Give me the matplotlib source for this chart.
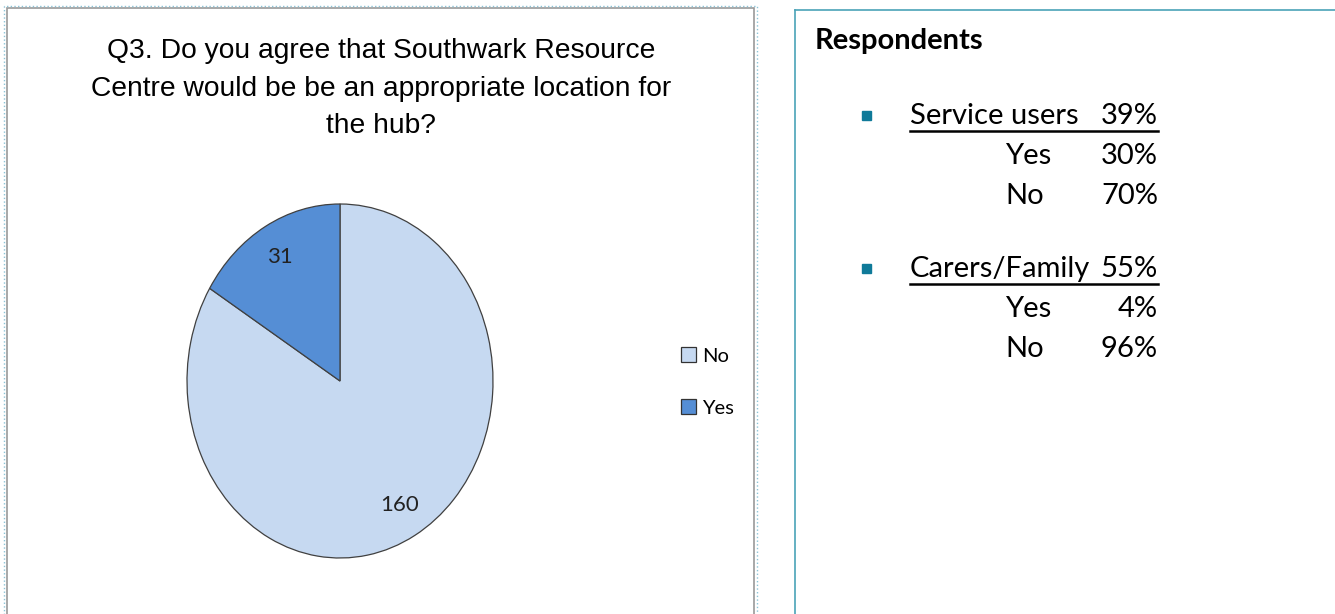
import matplotlib
matplotlib.use("Agg")
import matplotlib.pyplot as plt
from matplotlib.patches import Rectangle
from matplotlib.lines import Line2D

W, H = 1335, 614

title = "Q3. Do you agree that Southwark Resource\nCentre would be be an appropriate location for\nthe hub?"
slice_labels = ["No", "Yes"]
slice_values = [160, 31]
slice_colors = ["#c6d9f1", "#558ed5"]

groups = ["Service users", "Carers/Family"]
group_share = ["39%", "55%"]
answer_names = ["Yes", "No"]
answer_share = [["30%", "70%"], ["4%", "96%"]]


def fx(x):
    return x / W


def fy(y):
    return 1 - y / H


fig = plt.figure(figsize=(W / 100, H / 100), dpi=100)

# panel frames
fig.patches.append(Rectangle((fx(7), fy(H + 5)), fx(754 - 7), (H + 5 - 8) / H,
                             transform=fig.transFigure, fill=False,
                             edgecolor="#9a9a9a", linewidth=1.2))
fig.patches.append(Rectangle((fx(4), fy(H + 5)), fx(757 - 4), (H + 5 - 6) / H,
                             transform=fig.transFigure, fill=False,
                             edgecolor="#8cc3d6", linewidth=1.0, linestyle=":"))
fig.lines.append(Line2D([fx(795), fx(795)], [fy(10), 0], transform=fig.transFigure,
                        color="#4aa3b8", linewidth=1.2))
fig.lines.append(Line2D([fx(795), 1], [fy(10), fy(10)], transform=fig.transFigure,
                        color="#4aa3b8", linewidth=1.2))

# title
fig.text(fx(381), fy(38), title, ha="center", va="top", fontsize=20.3,
         family="Liberation Sans", linespacing=1.58)

# pie (elliptical like the original)
ax = fig.add_axes([fx(187), fy(558), fx(493 - 187), (558 - 204) / H])
wedges, texts = ax.pie(slice_values, colors=slice_colors, startangle=90,
                       counterclock=False, radius=1,
                       labels=[str(v) for v in slice_values], labeldistance=0.8,
                       wedgeprops=dict(edgecolor="#404040", linewidth=0.9),
                       textprops=dict(fontsize=16, family="Lato", color="#222222"))
for t in texts:
    t.set_ha("center")
    t.set_va("center")
ax.set_aspect("auto")
ax.set_xlim(-1.0, 1.0)
ax.set_ylim(-1.0, 1.0)

leg = fig.legend(wedges, slice_labels, loc="center left",
                 bbox_to_anchor=(fx(663), fy(382)), frameon=False,
                 prop=dict(family="Lato", size=14.5), handlelength=0.75,
                 handleheight=0.75, handletextpad=0.3, labelspacing=1.7)
for h in leg.legend_handles:
    h.set_edgecolor("#333333")
    h.set_linewidth(0.9)

# right panel text
fig.text(fx(815), fy(41), "Respondents", ha="left", va="center",
         fontsize=21, fontweight="bold", family="Lato")

row_y = [[116, 156, 196], [269, 309, 349]]
for g in range(len(groups)):
    y0, y1, y2 = row_y[g]
    fig.patches.append(Rectangle((fx(862), fy(y0 + 4)), fx(9), 9 / H,
                                 transform=fig.transFigure, color="#0f7a99"))
    fig.text(fx(910), fy(y0), groups[g], ha="left", va="center",
             fontsize=21, family="Lato")
    fig.text(fx(1158), fy(y0), group_share[g], ha="right", va="center",
             fontsize=21, family="Lato")
    fig.lines.append(Line2D([fx(910), fx(1158)], [fy(y0 + 15), fy(y0 + 15)],
                            transform=fig.transFigure, color="black",
                            linewidth=1.8))
    for a, yy in enumerate([y1, y2]):
        fig.text(fx(1005), fy(yy), answer_names[a], ha="left", va="center",
                 fontsize=21, family="Lato")
        fig.text(fx(1158), fy(yy), answer_share[g][a], ha="right", va="center",
                 fontsize=21, family="Lato")

fig.savefig("out.png", dpi=100)
